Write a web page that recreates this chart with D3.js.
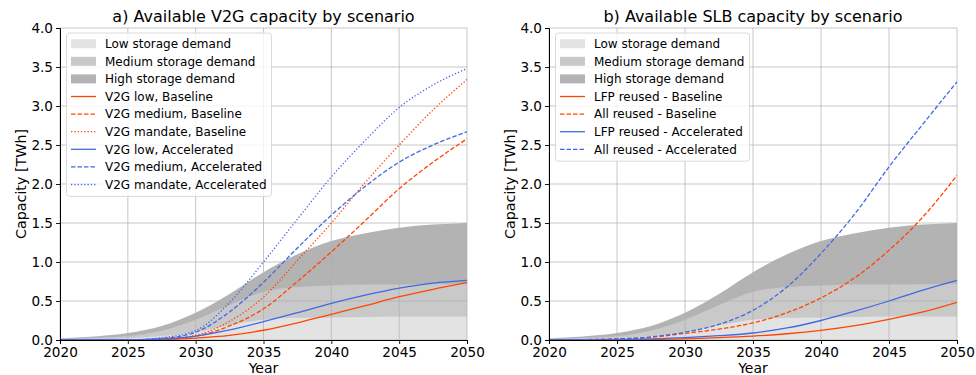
<!DOCTYPE html>
<html>
<head>
<meta charset="utf-8">
<script src="https://cdn.jsdelivr.net/npm/d3@7"></script>
<style>
  body { margin: 0; background: #fff; }
  svg text { font-family: "DejaVu Sans", sans-serif; fill: #000; }
</style>
</head>
<body>
<div id="chart"></div>
<script>
// Data (TWh)
var years = [2020, 2022.5, 2025, 2027.5, 2030, 2032.5, 2035, 2037.5, 2040, 2042.5, 2045, 2047.5, 2050];

// storage demand bands (same on both panels)
var lowDemand = [0.005, 0.01, 0.02, 0.05, 0.1, 0.19, 0.26, 0.285, 0.29, 0.295, 0.3, 0.3, 0.3];
var mediumDemand = [0.01, 0.025, 0.05, 0.12, 0.26, 0.45, 0.62, 0.68, 0.70, 0.71, 0.71, 0.715, 0.72];
var highDemand = [0.02, 0.045, 0.09, 0.18, 0.35, 0.59, 0.87, 1.1, 1.27, 1.37, 1.44, 1.48, 1.5];

// panel a) V2G
var v2gLowBase = [0, 0, 0, 0.005, 0.025, 0.06, 0.125, 0.22, 0.33, 0.44, 0.555, 0.65, 0.735];
var v2gMedBase = [0, 0, 0, 0.01, 0.05, 0.18, 0.4, 0.75, 1.13, 1.53, 1.94, 2.28, 2.58];
var v2gMandBase = [0, 0, 0, 0.015, 0.06, 0.24, 0.55, 1.02, 1.5, 2.02, 2.5, 2.95, 3.34];
var v2gLowAcc = [0, 0, 0, 0.01, 0.05, 0.13, 0.235, 0.35, 0.47, 0.575, 0.665, 0.73, 0.765];
var v2gMedAcc = [0, 0, 0.002, 0.02, 0.1, 0.36, 0.74, 1.18, 1.6, 1.97, 2.28, 2.5, 2.67];
var v2gMandAcc = [0, 0, 0.003, 0.03, 0.12, 0.48, 1.0, 1.55, 2.09, 2.56, 2.98, 3.27, 3.48];

// panel b) SLB
var lfpBase = [0, 0, 0.002, 0.006, 0.015, 0.03, 0.05, 0.08, 0.124, 0.185, 0.265, 0.36, 0.483];
var allBase = [0, 0.005, 0.015, 0.035, 0.085, 0.14, 0.22, 0.35, 0.54, 0.8, 1.15, 1.58, 2.11];
var lfpAcc = [0, 0.002, 0.006, 0.015, 0.03, 0.055, 0.09, 0.155, 0.25, 0.37, 0.5, 0.64, 0.765];
var allAcc = [0, 0.004, 0.012, 0.04, 0.1, 0.2, 0.38, 0.68, 1.11, 1.62, 2.22, 2.77, 3.31];

var xTicks = [2020, 2025, 2030, 2035, 2040, 2045, 2050];
var yTicks = [0, 0.5, 1, 1.5, 2, 2.5, 3, 3.5, 4];

var orange = "#ff4500";
var blue = "#4169e1";
var bandColors = { low: "#e3e3e3", medium: "#c9c9c9", high: "#b3b3b3" };

var panels = [
  {
    title: "a) Available V2G capacity by scenario",
    left: 60, right: 467,
    legendW: 205,
    series: [
      { name: "V2G low, Baseline", values: v2gLowBase, color: orange, dash: null },
      { name: "V2G medium, Baseline", values: v2gMedBase, color: orange, dash: "4.5,2" },
      { name: "V2G mandate, Baseline", values: v2gMandBase, color: orange, dash: "1.3,2" },
      { name: "V2G low, Accelerated", values: v2gLowAcc, color: blue, dash: null },
      { name: "V2G medium, Accelerated", values: v2gMedAcc, color: blue, dash: "4.5,2" },
      { name: "V2G mandate, Accelerated", values: v2gMandAcc, color: blue, dash: "1.3,2" }
    ]
  },
  {
    title: "b) Available SLB capacity by scenario",
    left: 549, right: 957,
    legendW: 194,
    series: [
      { name: "LFP reused - Baseline", values: lfpBase, color: orange, dash: null },
      { name: "All reused - Baseline", values: allBase, color: orange, dash: "4.5,2" },
      { name: "LFP reused - Accelerated", values: lfpAcc, color: blue, dash: null },
      { name: "All reused - Accelerated", values: allAcc, color: blue, dash: "4.5,2" }
    ]
  }
];

var svgWidth = 976, svgHeight = 375;
var plotTop = 28, plotBottom = 340;

var svg = d3.select("#chart").append("svg")
  .attr("width", svgWidth)
  .attr("height", svgHeight);

panels.forEach(function(p, pi) {
  var x = d3.scaleLinear().domain([2020, 2050]).range([p.left, p.right]);
  var y = d3.scaleLinear().domain([0, 4]).range([plotBottom, plotTop]);
  var g = svg.append("g");

  g.append("clipPath").attr("id", "clip" + pi)
    .append("rect")
    .attr("x", p.left).attr("y", plotTop)
    .attr("width", p.right - p.left).attr("height", plotBottom - plotTop);

  // storage demand bands
  var bands = [
    { vals: highDemand, color: bandColors.high },
    { vals: mediumDemand, color: bandColors.medium },
    { vals: lowDemand, color: bandColors.low }
  ];
  bands.forEach(function(b) {
    var area = d3.area()
      .x(function(d, i) { return x(years[i]); })
      .y0(y(0))
      .y1(function(d) { return y(d); })
      .curve(d3.curveMonotoneX);
    g.append("path")
      .datum(b.vals)
      .attr("d", area)
      .attr("fill", b.color);
  });

  // grid
  var grid = g.append("g");
  grid.selectAll(".hg").data(yTicks).enter().append("line")
    .attr("x1", p.left).attr("x2", p.right)
    .attr("y1", function(d) { return y(d); })
    .attr("y2", function(d) { return y(d); })
    .attr("stroke", "#b0b0b0").attr("stroke-width", 0.9)
    .attr("stroke-opacity", 0.8);
  grid.selectAll(".vg").data(xTicks).enter().append("line")
    .attr("y1", plotTop).attr("y2", plotBottom)
    .attr("x1", function(d) { return x(d); })
    .attr("x2", function(d) { return x(d); })
    .attr("stroke", "#b0b0b0").attr("stroke-width", 0.9)
    .attr("stroke-opacity", 0.8);

  // scenario lines
  var line = d3.line()
    .x(function(d, i) { return x(years[i]); })
    .y(function(d) { return y(d); })
    .curve(d3.curveMonotoneX);
  p.series.forEach(function(s) {
    g.append("path")
      .datum(s.values)
      .attr("d", line)
      .attr("fill", "none")
      .attr("stroke", s.color)
      .attr("stroke-width", 1.3)
      .attr("stroke-dasharray", s.dash)
      .attr("clip-path", "url(#clip" + pi + ")");
  });

  // axes
  var xAxis = d3.axisBottom(x).tickValues(xTicks).tickFormat(d3.format("d"))
    .tickSize(4).tickPadding(3);
  var yAxis = d3.axisLeft(y).tickValues(yTicks).tickFormat(d3.format(".1f"))
    .tickSize(4).tickPadding(3);

  var gx = g.append("g").attr("transform", "translate(0," + plotBottom + ")").call(xAxis);
  var gy = g.append("g").attr("transform", "translate(" + p.left + ",0)").call(yAxis);
  [gx, gy].forEach(function(a) {
    a.selectAll("text").style("font-size", "13.6px").attr("fill", "#000");
    a.selectAll("line").attr("stroke", "#000").attr("stroke-width", 0.9);
    a.select(".domain").attr("stroke", "#000").attr("stroke-width", 1);
  });
  gy.selectAll("text").attr("dy", "0.36em");

  // titles and labels
  g.append("text")
    .attr("x", (p.left + p.right) / 2).attr("y", 22)
    .attr("text-anchor", "middle")
    .style("font-size", "16px")
    .text(p.title);
  g.append("text")
    .attr("x", (p.left + p.right) / 2).attr("y", 373)
    .attr("text-anchor", "middle")
    .style("font-size", "14px")
    .text("Year");
  g.append("text")
    .attr("transform", "translate(" + (p.left - 34) + "," + ((plotTop + plotBottom) / 2) + ") rotate(-90)")
    .attr("text-anchor", "middle")
    .style("font-size", "14.3px")
    .text("Capacity [TWh]");

  // legend
  var entries = [
    { name: "Low storage demand", patch: bandColors.low },
    { name: "Medium storage demand", patch: bandColors.medium },
    { name: "High storage demand", patch: bandColors.high }
  ].concat(p.series);

  var lx = p.left + 6.5, ly = 33, rowH = 17.6;
  var legend = g.append("g");
  legend.append("rect")
    .attr("x", lx).attr("y", ly)
    .attr("width", p.legendW)
    .attr("height", entries.length * rowH + 5)
    .attr("rx", 3)
    .attr("fill", "#fff").attr("fill-opacity", 0.8)
    .attr("stroke", "#d6d6d6").attr("stroke-width", 0.9);

  var rows = legend.selectAll(".row").data(entries).enter().append("g")
    .attr("transform", function(d, i) { return "translate(" + lx + "," + (ly + 10.7 + i * rowH) + ")"; });
  rows.each(function(d) {
    var r = d3.select(this);
    if (d.patch) {
      r.append("rect").attr("x", 4.5).attr("y", -4.5).attr("width", 25).attr("height", 9)
        .attr("fill", d.patch);
    } else {
      r.append("line").attr("x1", 4.5).attr("x2", 29.5).attr("y1", 0).attr("y2", 0)
        .attr("stroke", d.color).attr("stroke-width", 1.3)
        .attr("stroke-dasharray", d.dash);
    }
    r.append("text").attr("x", 38.5).attr("dy", "0.36em")
      .style("font-size", "12px")
      .text(d.name);
  });
});
</script>
</body>
</html>
